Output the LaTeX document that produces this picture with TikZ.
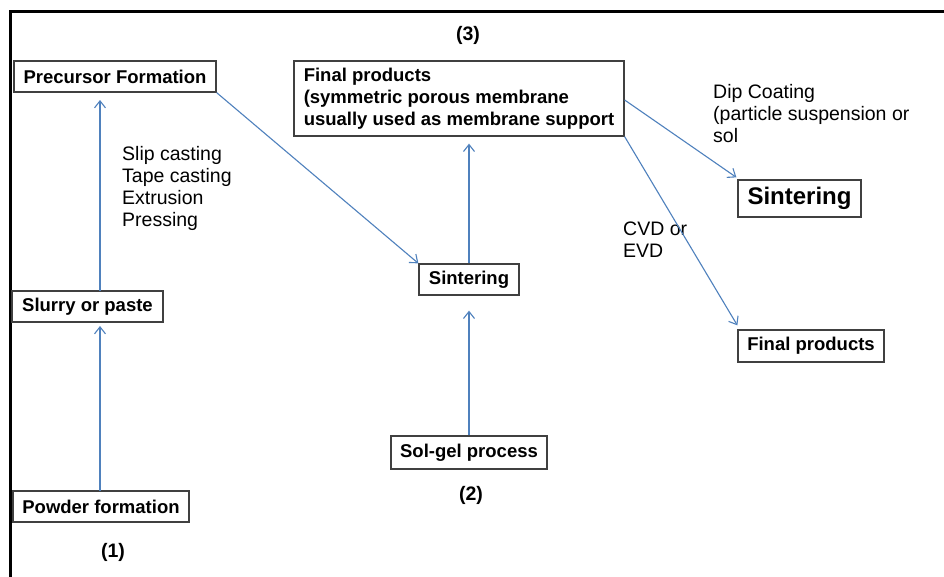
\documentclass[tikz,border=0pt]{standalone}
\usepackage{fontspec}
\setmainfont{Liberation Sans}
\usetikzlibrary{arrows.meta}
\definecolor{arrblue}{HTML}{4F81BD}
\definecolor{boxgray}{HTML}{404040}
\begin{document}
\begin{tikzpicture}[x=1pt,y=-1pt,
  box/.style={draw=boxgray,line width=1.3pt,inner sep=0pt,font=\fontsize{18.5}{22}\selectfont\bfseries},
  note/.style={inner sep=0pt,anchor=north west,align=left,font=\fontsize{19.5}{22}\selectfont},
  num/.style={inner sep=0pt,font=\fontsize{19.5}{22}\selectfont\bfseries},
  arr/.style={draw=arrblue,line width=1.1pt,-{Straight Barb[length=7pt,width=11pt,line width=1.1pt]}}]
\useasboundingbox (0,0) rectangle (944,576);
\fill[white] (0,0) rectangle (944,576);
\draw[line width=2.5pt] (10.5,577) -- (10.5,11.5) -- (945,11.5);
% boxes
\node[box,minimum width=202pt,minimum height=31pt] (prec) at (115,76.5) {Precursor Formation};
\node[box,minimum width=330pt,minimum height=75pt,align=left] (final) at (459,98.5) {Final products\\(symmetric porous membrane\\usually used as membrane support};
\node[box,minimum width=123pt,minimum height=37pt,font=\fontsize{24}{28}\selectfont\bfseries] (sintb) at (799.5,198.5) {Sintering};
\node[box,minimum width=146pt,minimum height=32pt] (finals) at (811,346) {Final products};
\node[box,minimum width=151pt,minimum height=31pt] (slurry) at (87.5,306.5) {Slurry or paste};
\node[box,minimum width=100pt,minimum height=31pt] (sintm) at (469,279.5) {Sintering};
\node[box,minimum width=156pt,minimum height=33pt] (solgel) at (469,452.5) {Sol-gel process};
\node[box,minimum width=176pt,minimum height=31pt] (powder) at (101,506.5) {Powder formation};
% labels
\node[num] (n3) at (468,35) {(3)};
\node[num] (n2) at (471,495) {(2)};
\node[num] (n1) at (113,552) {(1)};
\node[note] (cast) at (122,146) {Slip casting\\Tape casting\\Extrusion\\Pressing};
\node[note] (dip) at (713,84) {Dip Coating\\(particle suspension or\\sol};
\node[note] (cvd) at (623,222) {CVD or\\EVD};
% connectors
\coordinate (pw) at (100,491);
\coordinate (sl1) at (100,326);
\coordinate (sl2) at (100,291);
\coordinate (pr) at (100,100);
\draw[arr] (pw) -- (sl1);
\draw[arr] (sl2) -- (pr);
\draw[arr] (prec.south east) -- (sintm.north west);
\draw[arr] (sintm.north) -- ([yshift=-7pt]sintm.north |- final.south);
\draw[arr] (solgel.north) -- ([yshift=-15pt]sintm.south);
\draw[arr] (final.east |- 0,100) -- ([shift={(-1pt,2pt)}]sintb.north west);
\draw[arr] (final.south east) -- ([yshift=4pt]finals.north west);
\end{tikzpicture}
\end{document}
